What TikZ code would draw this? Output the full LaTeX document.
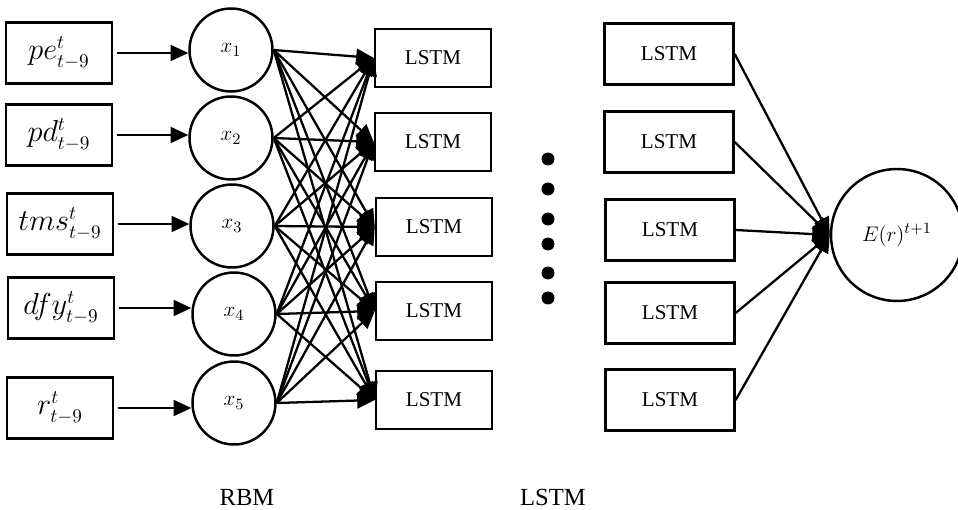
\documentclass[tikz,border=0pt]{standalone}
\usepackage{fontspec}
\setmainfont{Liberation Serif}
\usetikzlibrary{arrows.meta}

\begin{document}
\begin{tikzpicture}[x=0.02cm,y=-0.02cm]
    \tikzstyle{c}=[shape=circle,draw,line width=1.4pt,minimum size=1.66cm,inner sep=0pt,font=\fontsize{13}{15}\selectfont]
    \tikzstyle{box}=[draw,line width=1.4pt,minimum width=2.32cm,minimum height=1.16cm,font=\fontsize{12}{14}\selectfont]
    \tikzstyle{inp}=[box,minimum width=2.12cm,minimum height=1.22cm,font=\fontsize{16}{19}\selectfont]
    \tikzstyle{arr}=[line width=1.3pt,-{Triangle[length=10pt,width=9pt]}]

    \useasboundingbox (0,0) rectangle (958,510);

    % inputs
    \node[inp] (in_1) at (59,53) {$pe^t_{t-9}$};
    \node[inp] (in_2) at (59,135) {$pd^t_{t-9}$};
    \node[inp] (in_3) at (60,224) {$tms^t_{t-9}$};
    \node[inp] (in_4) at (61,308) {$dfy^t_{t-9}$};
    \node[inp] (in_5) at (60,408) {$r^t_{t-9}$};

    % RBM layer
    \node[c] (rbm_1) at (231,50) {$x_1$};
    \node[c] (rbm_2) at (231,138) {$x_2$};
    \node[c] (rbm_3) at (232,226) {$x_3$};
    \node[c] (rbm_4) at (234,314) {$x_4$};
    \node[c] (rbm_5) at (234,403) {$x_5$};

    \foreach \i in {1,...,5}
        \draw[arr,shorten <=2pt] (in_\i) -- (in_\i -| rbm_\i.west);

    % first LSTM layer
    \node[box] (lstm_1) at (433,58) {LSTM};
    \node[box] (lstm_2) at (433,142) {LSTM};
    \node[box] (lstm_3) at (434,227) {LSTM};
    \node[box] (lstm_4) at (434,311) {LSTM};
    \node[box] (lstm_5) at (434,400) {LSTM};

    % RBM -> LSTM, fully connected
    \foreach \i in {1,...,5}
        \foreach \j in {1,...,5}
            \draw[arr] (rbm_\i.east) -- (lstm_\j.west);

    % dots
    \foreach \y in {159,189,219,244,273,298}
        \fill (548,\y) circle (0.13cm);

    % last LSTM layer
    \node[box,minimum width=2.58cm,minimum height=1.22cm] (out_1) at (669,54) {LSTM};
    \node[box,minimum width=2.58cm,minimum height=1.22cm] (out_2) at (669,142) {LSTM};
    \node[box,minimum width=2.58cm,minimum height=1.22cm] (out_3) at (670,230) {LSTM};
    \node[box,minimum width=2.58cm,minimum height=1.22cm] (out_4) at (670,313) {LSTM};
    \node[box,minimum width=2.58cm,minimum height=1.22cm] (out_5) at (670,400) {LSTM};

    % output
    \node[c,minimum size=2.64cm] (output) at (897,235) {$E(r)^{t+1}$};

    \foreach \j in {1,...,5}
        \draw[arr] (out_\j.east) -- (output.west);

    % layer names
    \node[font=\fontsize{14}{17}\selectfont] (rbm_name) at (247,497) {RBM};
    \node[font=\fontsize{14}{17}\selectfont] (lstm_name) at (553,497) {LSTM};
\end{tikzpicture}
\end{document}
